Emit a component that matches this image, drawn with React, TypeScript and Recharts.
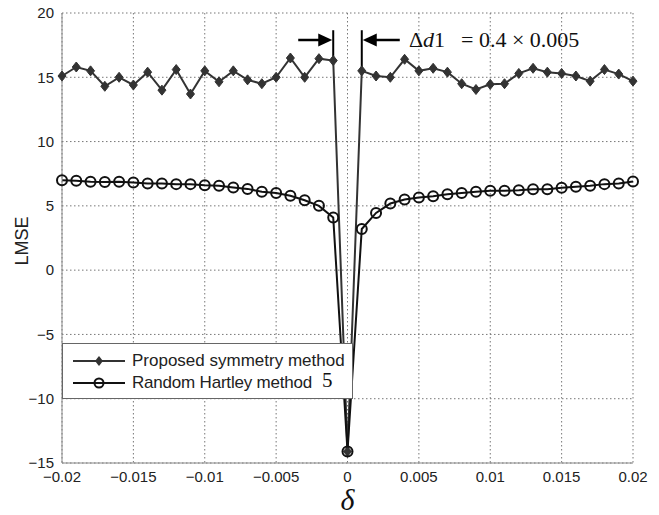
import React from "react";
import {
  LineChart,
  Line,
  XAxis,
  YAxis,
  CartesianGrid,
  ReferenceLine,
  ReferenceDot,
} from "recharts";

// delta offsets (x axis)
const deltas = [
  -0.02, -0.019, -0.018, -0.017, -0.016, -0.015, -0.014, -0.013, -0.012, -0.011,
  -0.01, -0.009, -0.008, -0.007, -0.006, -0.005, -0.004, -0.003, -0.002, -0.001,
  0,
  0.001, 0.002, 0.003, 0.004, 0.005, 0.006, 0.007, 0.008, 0.009, 0.01,
  0.011, 0.012, 0.013, 0.014, 0.015, 0.016, 0.017, 0.018, 0.019, 0.02,
];

// LMSE of the proposed symmetry method
const symmetryMse = [
  15.1, 15.8, 15.5, 14.3, 15.0, 14.4, 15.4, 14.0, 15.6, 13.7,
  15.5, 14.65, 15.5, 14.8, 14.5, 15.0, 16.5, 15.0, 16.45, 16.3,
  -14.1,
  15.5, 15.1, 15.0, 16.4, 15.5, 15.7, 15.4, 14.5, 14.05, 14.45,
  14.5, 15.3, 15.7, 15.4, 15.3, 15.1, 14.7, 15.6, 15.25, 14.7,
];

// LMSE of the random Hartley method
const hartleyMse = [
  7.0, 6.95, 6.87, 6.85, 6.87, 6.82, 6.74, 6.74, 6.69, 6.69,
  6.61, 6.56, 6.43, 6.32, 6.09, 6.0, 5.78, 5.44, 5.0, 4.1,
  -14.1,
  3.2, 4.45, 5.18, 5.5, 5.65, 5.75, 5.9, 6.0, 6.09, 6.17,
  6.17, 6.22, 6.3, 6.3, 6.4, 6.48, 6.56, 6.69, 6.74, 6.9,
];

const xTicks = [-0.02, -0.015, -0.01, -0.005, 0, 0.005, 0.01, 0.015, 0.02];
const yTicks = [-15, -10, -5, 0, 5, 10, 15, 20];

const seriesNames = ["Proposed symmetry method", "Random Hartley method"];

// annotation marker: gap between the two points next to zero
const gapLeft = -0.001;
const gapRight = 0.001;
const gapTop = 18.66;
const arrowLevel = 17.9;
const noteX = 0.0043;

const data = deltas.map((d, i) => ({
  delta: d,
  symmetry: symmetryMse[i],
  hartley: hartleyMse[i],
}));

const sans = "'Liberation Sans', Arial, Helvetica, sans-serif";
const serif = "'Liberation Serif', 'Times New Roman', serif";

const fmt = (v: number) => (v < 0 ? "\u2212" + String(-v) : String(v));

const Diamond = (props: any) => {
  const { cx, cy } = props;
  if (cx == null || cy == null) return null;
  return (
    <polygon
      points={`${cx},${cy - 5} ${cx + 4},${cy} ${cx},${cy + 5} ${cx - 4},${cy}`}
      fill="#333"
      stroke="#333"
    />
  );
};

const Ring = (props: any) => {
  const { cx, cy } = props;
  if (cx == null || cy == null) return null;
  return <circle cx={cx} cy={cy} r={5} fill="none" stroke="#111" strokeWidth={2} />;
};

const RightArrow = (p: any) => (
  <g>
    <line x1={p.cx - 35} y1={p.cy} x2={p.cx - 12} y2={p.cy} stroke="#000" strokeWidth={2.5} />
    <polygon
      points={`${p.cx - 1},${p.cy} ${p.cx - 15},${p.cy - 6.5} ${p.cx - 15},${p.cy + 6.5}`}
      fill="#000"
    />
  </g>
);

const LeftArrow = (p: any) => (
  <g>
    <line x1={p.cx + 12} y1={p.cy} x2={p.cx + 38} y2={p.cy} stroke="#000" strokeWidth={2.5} />
    <polygon
      points={`${p.cx + 1},${p.cy} ${p.cx + 15},${p.cy - 6.5} ${p.cx + 15},${p.cy + 6.5}`}
      fill="#000"
    />
  </g>
);

const Note = (p: any) => (
  <text x={p.cx} y={p.cy + 7} fontFamily={serif} fontSize={22} fill="#111">
    <tspan>Δ</tspan>
    <tspan fontStyle="italic">d</tspan>
    <tspan>1</tspan>
    <tspan dx={16}>= 0.4 × 0.005</tspan>
  </text>
);

function LegendBox() {
  return (
    <div
      style={{
        position: "absolute",
        left: 62,
        top: 343,
        width: 289,
        height: 54,
        border: "1px solid #666",
        background: "#fff",
        fontFamily: sans,
        fontSize: 17,
        lineHeight: "20px",
        color: "#222",
      }}
    >
      {seriesNames.map((name, i) => (
        <div
          key={name}
          style={{
            position: "absolute",
            left: 10,
            top: i === 0 ? 7 : 29,
            height: 20,
            display: "flex",
            alignItems: "center",
            whiteSpace: "nowrap",
            letterSpacing: i === 1 ? -0.2 : 0,
          }}
        >
          <svg width={52} height={14} style={{ marginRight: 7 }}>
            <line x1={0} y1={7} x2={52} y2={7} stroke={i === 0 ? "#333" : "#111"} strokeWidth={2} />
            {i === 0 ? (
              <polygon points="26,2 30,7 26,12 22,7" fill="#333" />
            ) : (
              <circle cx={26} cy={7} r={4.5} fill="none" stroke="#111" strokeWidth={2} />
            )}
          </svg>
          <span>{name}</span>
        </div>
      ))}
      <span
        style={{
          position: "absolute",
          left: 259,
          top: 27,
          fontFamily: serif,
          fontSize: 21,
          lineHeight: "18px",
          color: "#111",
        }}
      >
        5
      </span>
    </div>
  );
}

export default function App() {
  return (
    <div style={{ position: "absolute", left: 0, top: 0, width: 659, height: 515, background: "#fff" }}>
      <LineChart
        width={659}
        height={515}
        data={data}
        margin={{ top: 13, right: 26, left: 0, bottom: 0 }}
      >
        <CartesianGrid stroke="#777" strokeDasharray="1.5 2.5" />
        <XAxis
          dataKey="delta"
          type="number"
          domain={[-0.02, 0.02]}
          ticks={xTicks}
          tickFormatter={fmt}
          height={52}
          stroke="#888"
          tickLine={false}
          tick={{ fill: "#222", fontSize: 15, fontFamily: sans }}
          label={{
            content: (props: any) => {
              const vb = props.viewBox;
              return (
                <text
                  x={vb.x + vb.width / 2}
                  y={vb.y + 47}
                  textAnchor="middle"
                  fontFamily={serif}
                  fontStyle="italic"
                  fontSize={30}
                  fill="#111"
                >
                  δ
                </text>
              );
            },
          }}
        />
        <XAxis
          xAxisId="top"
          orientation="top"
          dataKey="delta"
          type="number"
          domain={[-0.02, 0.02]}
          height={0}
          tick={false}
          tickLine={false}
          stroke="#888"
        />
        <YAxis
          type="number"
          domain={[-15, 20]}
          ticks={yTicks}
          tickFormatter={fmt}
          width={62}
          stroke="#888"
          tickLine={false}
          tick={{ fill: "#222", fontSize: 15, fontFamily: sans }}
          label={{
            content: (props: any) => {
              const vb = props.viewBox;
              const cx = vb.x + 22;
              const cy = vb.y + vb.height / 2 + 3;
              return (
                <text
                  x={cx}
                  y={cy}
                  transform={`rotate(-90 ${cx} ${cy})`}
                  textAnchor="middle"
                  dominantBaseline="central"
                  fontFamily={sans}
                  fontSize={18}
                  fill="#222"
                >
                  LMSE
                </text>
              );
            },
          }}
        />
        <YAxis
          yAxisId="right"
          orientation="right"
          type="number"
          domain={[-15, 20]}
          width={0}
          tick={false}
          tickLine={false}
          stroke="#888"
        />
        <Line
          dataKey="symmetry"
          stroke="#333"
          strokeWidth={2}
          dot={<Diamond />}
          isAnimationActive={false}
        />
        <Line
          dataKey="hartley"
          stroke="#111"
          strokeWidth={2}
          dot={<Ring />}
          isAnimationActive={false}
        />
        <ReferenceLine
          segment={[
            { x: gapLeft, y: symmetryMse[19] },
            { x: gapLeft, y: gapTop },
          ]}
          stroke="#000"
          strokeWidth={2}
        />
        <ReferenceLine
          segment={[
            { x: gapRight, y: symmetryMse[21] },
            { x: gapRight, y: gapTop },
          ]}
          stroke="#000"
          strokeWidth={2}
        />
        <ReferenceDot x={gapLeft} y={arrowLevel} shape={RightArrow} />
        <ReferenceDot x={gapRight} y={arrowLevel} shape={LeftArrow} />
        <ReferenceDot x={noteX} y={arrowLevel} shape={Note} />
      </LineChart>
      <LegendBox />
    </div>
  );
}
